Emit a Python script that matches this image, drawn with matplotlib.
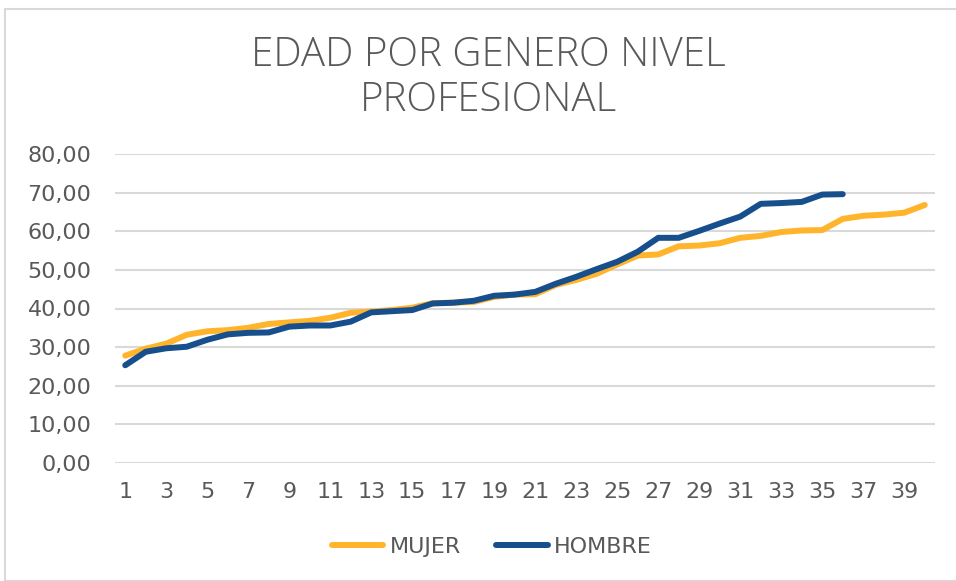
import numpy as np
import matplotlib
matplotlib.use('Agg')
from matplotlib import pyplot as plt
from matplotlib.patches import Rectangle

plt.rcParams['font.family'] = ['DejaVu Sans']

categories = list(range(1, 41))
mujer = [27.8, 29.6, 30.9, 33.2, 34.1, 34.4, 35.0, 36.0, 36.4, 36.8,
         37.6, 38.9, 39.2, 39.6, 40.2, 41.4, 41.5, 41.7, 43.0, 43.6,
         43.7, 46.1, 47.4, 49.0, 51.4, 53.7, 54.0, 56.1, 56.3, 56.9,
         58.3, 58.8, 59.8, 60.2, 60.3, 63.2, 64.0, 64.3, 64.8, 66.8]
hombre = [25.3, 28.8, 29.7, 30.1, 31.9, 33.3, 33.7, 33.8, 35.3, 35.6,
          35.6, 36.6, 39.0, 39.3, 39.6, 41.3, 41.5, 42.0, 43.3, 43.6,
          44.3, 46.4, 48.2, 50.2, 52.1, 54.7, 58.3, 58.3, 60.1, 62.0,
          63.8, 67.1, 67.3, 67.6, 69.5, 69.6]
yticks = [0, 10, 20, 30, 40, 50, 60, 70, 80]

txt = '#595959'
orange = '#FFB42B'
blue = '#174E8C'
grid = '#D9D9D9'

fig = plt.figure(figsize=(9.56, 5.81), dpi=100)
fig.patches.append(Rectangle((5/956, 0), 1, 1 - 9/581, transform=fig.transFigure,
                             fill=False, edgecolor=grid, linewidth=1.5))

ax = fig.add_axes([115/956, 1 - 463/581, 820/956, 309/581])
x = np.arange(len(categories))
ax.plot(x, mujer, color=orange, linewidth=4.3, solid_capstyle='round',
        solid_joinstyle='round', label='MUJER')
ax.plot(x[:len(hombre)], hombre, color=blue, linewidth=4.3, solid_capstyle='round',
        solid_joinstyle='round', label='HOMBRE')

ax.set_xlim(-0.5, len(categories) - 0.5)
ax.set_ylim(0, 80)
ax.set_yticks(yticks)
ax.set_yticklabels([('%.2f' % v).replace('.', ',') for v in yticks])
ax.set_xticks(x[::2])
ax.set_xticklabels([str(c) for c in categories[::2]])
ax.grid(axis='y', color=grid, linewidth=1.5)
ax.set_axisbelow(True)
for s in ax.spines.values():
    s.set_visible(False)
ax.tick_params(axis='both', length=0, labelsize=16, colors=txt)
ax.tick_params(axis='y', pad=17)
ax.tick_params(axis='x', pad=14)

fig.text(488/956, 1 - 78/581, 'EDAD POR GENERO NIVEL\nPROFESIONAL', ha='center', va='center',
         fontsize=29, color=txt, fontweight='light', linespacing=1.15,
         family=['Open Sans', 'DejaVu Sans'])

fig.legend(loc='center', bbox_to_anchor=(492/956, 1 - 547/581), ncol=2, frameon=False,
           fontsize=16, labelcolor=txt, handlelength=2.3, handletextpad=0.3,
           columnspacing=1.6)

fig.savefig('out.png', dpi=100)
